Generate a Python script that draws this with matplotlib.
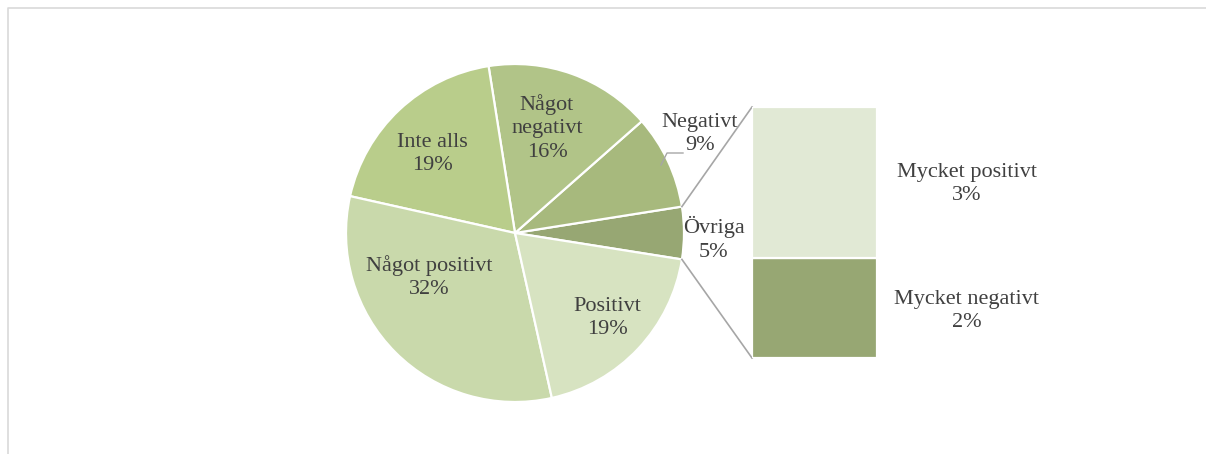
import numpy as np
import matplotlib.pyplot as plt

# ============================================================
# DATA
# ============================================================
pie_labels = ["Övriga", "Negativt", "Något\nnegativt", "Inte alls", "Något positivt", "Positivt"]
pie_values = [5, 9, 16, 19, 32, 19]
pie_colors = ["#97a773", "#a7b97d", "#b1c488", "#b9cd8b", "#c9d9ab", "#d7e3c1"]

bar_labels = ["Mycket negativt", "Mycket positivt"]
bar_values = [2, 3]
bar_colors = ["#97a773", "#e1e9d5"]

TEXT = "#404040"
FONT = "Liberation Serif"
FS = 16
LS = 1.35

W, H = 1206, 454
fig = plt.figure(figsize=(W / 100, H / 100), dpi=100)

# pixel-space axes for pie, frame and connectors
ax = fig.add_axes([0, 0, 1, 1])

# chart frame (Excel-style)
ax.plot([7.5, 7.5, W], [0, H - 7.5, H - 7.5], color="#d9d9d9", lw=1.2)

cx, cy, r = 515, H - 233, 169
start = -360 * pie_values[0] / 100 / 2

wedges, _ = ax.pie(
    pie_values,
    colors=pie_colors,
    startangle=start,
    counterclock=True,
    center=(cx, cy),
    radius=r,
    frame=True,
    wedgeprops=dict(edgecolor="white", linewidth=1.6),
)
ax.set_xlim(0, W)
ax.set_ylim(0, H)
ax.set_aspect("equal")
ax.axis("off")

# labels on the pie
label_pos = {
    "Övriga": (714, 239),
    "Negativt": (700, 134),
    "Något\nnegativt": (547, 128),
    "Inte alls": (432, 154),
    "Något positivt": (429, 277),
    "Positivt": (607, 318),
}
for lab, v in zip(pie_labels, pie_values):
    x, y = label_pos[lab]
    ax.text(x, H - y, f"{lab}\n{v}%", ha="center", va="center",
            fontsize=FS, color=TEXT, family=FONT, linespacing=LS)

# leader line for Negativt
ax.plot([661, 667, 683], [H - 165, H - 153, H - 153], color="#a6a6a6", lw=1)

# bar of the "Övriga" slice
bx0, by0, bw, bh = 752, H - 358, 125, 251
bax = fig.add_axes([bx0 / W, by0 / H, bw / W, bh / H])
bottom = 0
for lab, v, c in zip(bar_labels, bar_values, bar_colors):
    bax.bar(0, v, bottom=bottom, width=1, color=c, edgecolor="white", linewidth=1.6)
    bottom += v
bax.set_xlim(-0.5, 0.5)
bax.set_ylim(0, sum(bar_values))
bax.axis("off")

bar_text_y = {"Mycket positivt": 184, "Mycket negativt": 311}
for lab, v in zip(bar_labels, bar_values):
    ax.text(967, H - bar_text_y[lab], f"{lab}\n{v}%", ha="center", va="center",
            fontsize=FS, color=TEXT, family=FONT, linespacing=LS)

# connector lines from Övriga wedge to bar
ang1 = np.deg2rad(start + 360 * pie_values[0] / 100)
ang0 = np.deg2rad(start)
ax.plot([cx + r * np.cos(ang1), bx0], [cy + r * np.sin(ang1), by0 + bh], color="#a6a6a6", lw=1.2)
ax.plot([cx + r * np.cos(ang0), bx0], [cy + r * np.sin(ang0), by0], color="#a6a6a6", lw=1.2)

fig.savefig("out.png", dpi=100, facecolor="white")
